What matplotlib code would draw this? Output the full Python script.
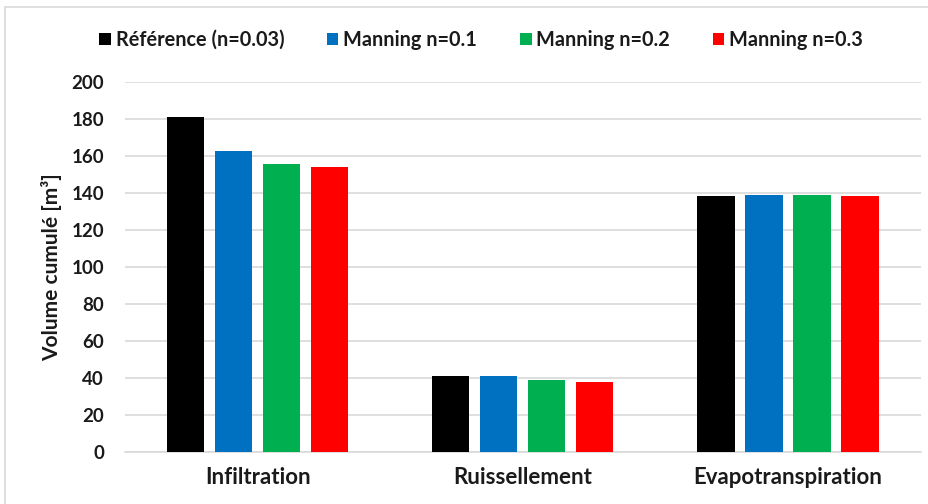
import matplotlib
matplotlib.use("Agg")
import matplotlib.pyplot as plt
import numpy as np
from matplotlib.patches import Rectangle

categories = ["Infiltration", "Ruissellement", "Evapotranspiration"]
series_names = ["Référence (n=0.03)", "Manning n=0.1", "Manning n=0.2", "Manning n=0.3"]
ref_vals = [181, 41, 138.4]
n01_vals = [162.7, 41, 139.2]
n02_vals = [156, 39, 139.2]
n03_vals = [154, 37.8, 138.4]
colors = ["#000000", "#0070C0", "#00B050", "#FF0000"]
yticks = [0, 20, 40, 60, 80, 100, 120, 140, 160, 180, 200]

plt.rcParams['font.family'] = ['Lato', 'DejaVu Sans']
text_color = '#1a1a1a'

fig = plt.figure(figsize=(9.29, 5.04), dpi=100)
ax = fig.add_axes([0.1346, 0.103, 0.8564, 0.734])

x = np.arange(len(categories))
width = 0.14
step = 0.181
all_vals = [ref_vals, n01_vals, n02_vals, n03_vals]
for i, (vals, name, c) in enumerate(zip(all_vals, series_names, colors)):
    ax.bar(x + (i - 1.5) * step, vals, width, color=c, label=name, zorder=3)

ax.set_xlim(-0.5, 2.5)
ax.set_ylim(0, 200)
ax.set_yticks(yticks)
ax.grid(axis='y', color='#d9d9d9', linewidth=1.2, zorder=0)
for s in ['top', 'right', 'left']:
    ax.spines[s].set_visible(False)
ax.spines['bottom'].set_color('#d9d9d9')
ax.spines['bottom'].set_linewidth(1.2)
ax.tick_params(axis='y', length=0, labelsize=13.5, colors=text_color, pad=15)
ax.tick_params(axis='x', length=0, labelsize=16, colors=text_color, pad=11)
ax.set_xticks(x)
ax.set_xticklabels(categories, fontweight='bold')
for lab in ax.get_yticklabels():
    lab.set_fontweight('bold')
fig.text(52 / 929, 1 - 267 / 504, "Volume cumulé [m³]", rotation=90, ha='center', va='center',
         fontsize=15, fontweight='bold', color=text_color)

leg = fig.legend(loc='center', bbox_to_anchor=(0.518, 0.921), ncol=4, frameon=False,
                 prop={'weight': 'bold', 'size': 14.3}, handlelength=0.58, handleheight=0.58,
                 handletextpad=0.25, columnspacing=2.15)
for t in leg.get_texts():
    t.set_color(text_color)

fig.patches.append(Rectangle((5 / 929, -0.1), 1.2, (504 - 7) / 504 + 0.1, transform=fig.transFigure,
                             fill=False, edgecolor='#d9d9d9', linewidth=1.2))

fig.savefig("out.png", dpi=100)
